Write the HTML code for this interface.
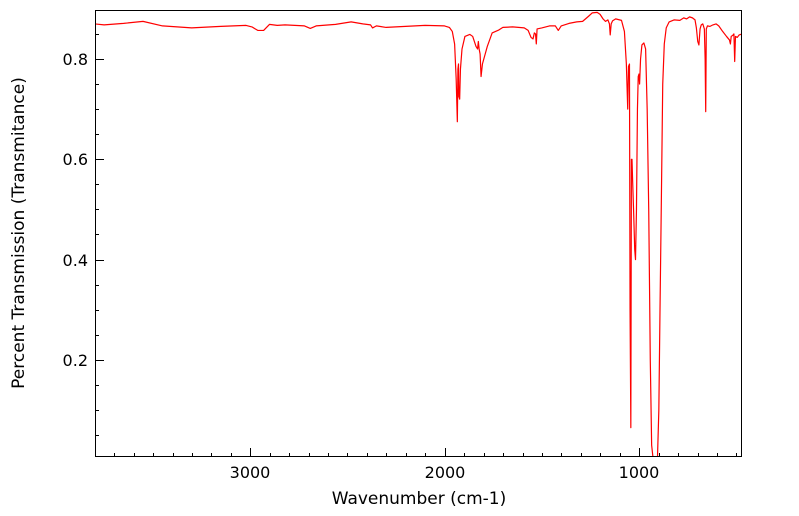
<!DOCTYPE html>
<html><head><meta charset="utf-8"><style>
body{margin:0;background:#fff}
svg{display:block;font-family:"DejaVu Sans","Liberation Sans",sans-serif}
</style></head><body>
<svg width="799" height="516" viewBox="0 0 799 516">
<defs><clipPath id="c"><rect x="95" y="10" width="647" height="447"/></clipPath></defs>
<rect x="95" y="10" width="647" height="447" fill="#fff"/>
<g clip-path="url(#c)">
<polyline transform="matrix(-0.1945 0 0 -501.5 833.5 460.2)" vector-effect="non-scaling-stroke" fill="none" stroke="#ff0000" stroke-width="1.2" stroke-linejoin="round"
points="3800,0.870 3750,0.868 3650,0.871 3550,0.875 3450,0.866 3300,0.862 3150,0.865 3020,0.867 2990,0.864 2960,0.857 2930,0.857 2900,0.869 2860,0.867 2820,0.868 2720,0.866 2690,0.861 2660,0.866 2560,0.869 2480,0.874 2420,0.870 2380,0.868 2370,0.862 2350,0.866 2300,0.863 2200,0.865 2100,0.867 2000,0.866 1975,0.863 1960,0.855 1948,0.830 1940,0.760 1934,0.675 1931,0.780 1928,0.790 1926,0.725 1922,0.720 1918,0.780 1910,0.820 1895,0.845 1870,0.849 1855,0.845 1838,0.825 1830,0.820 1826,0.835 1822,0.820 1817,0.810 1812,0.765 1805,0.790 1780,0.825 1755,0.852 1720,0.858 1700,0.863 1650,0.864 1590,0.862 1570,0.857 1555,0.843 1545,0.840 1538,0.852 1532,0.850 1528,0.830 1524,0.860 1500,0.862 1460,0.866 1430,0.866 1415,0.857 1400,0.866 1360,0.871 1320,0.874 1290,0.875 1260,0.885 1240,0.892 1215,0.893 1200,0.889 1185,0.880 1172,0.875 1160,0.878 1152,0.870 1148,0.848 1143,0.870 1136,0.876 1120,0.880 1090,0.877 1075,0.855 1065,0.790 1058,0.700 1054,0.785 1049,0.790 1046,0.300 1042,0.065 1039,0.600 1036,0.600 1033,0.560 1028,0.500 1022,0.420 1018,0.400 1013,0.500 1008,0.700 1004,0.765 1000,0.770 997,0.750 992,0.800 985,0.828 975,0.832 966,0.820 958,0.700 950,0.500 942,0.200 935,0.030 928,0.005 915,0.003 905,0.005 898,0.100 892,0.300 885,0.520 878,0.750 870,0.830 860,0.862 845,0.874 820,0.878 790,0.877 770,0.882 755,0.880 740,0.884 725,0.882 712,0.878 705,0.862 698,0.835 692,0.828 686,0.860 680,0.868 672,0.870 664,0.860 660,0.800 657,0.695 654,0.860 648,0.866 635,0.865 620,0.868 604,0.870 590,0.866 570,0.855 550,0.845 535,0.838 530,0.830 526,0.845 518,0.847 512,0.850 508,0.795 504,0.845 495,0.843 485,0.848 470,0.850"/>
</g>
<g stroke="#000" stroke-width="1" fill="none">
<rect x="95.5" y="10.5" width="646" height="446"/>
<path d="M250.5,457v-9M445.5,457v-9M639.5,457v-9
M114.5,457v-4M134.5,457v-4M153.5,457v-4M173.5,457v-4M192.5,457v-4M211.5,457v-4M231.5,457v-4M270.5,457v-4M289.5,457v-4M309.5,457v-4M328.5,457v-4M347.5,457v-4M367.5,457v-4M386.5,457v-4M406.5,457v-4M425.5,457v-4M464.5,457v-4M484.5,457v-4M503.5,457v-4M523.5,457v-4M542.5,457v-4M561.5,457v-4M581.5,457v-4M600.5,457v-4M620.5,457v-4M659.5,457v-4M678.5,457v-4M698.5,457v-4M717.5,457v-4M736.5,457v-4
M95,59.5h9M95,159.5h9M95,260.5h9M95,360.5h9
M95,34.5h4M95,84.5h4M95,109.5h4M95,134.5h4M95,184.5h4M95,209.5h4M95,234.5h4M95,285.5h4M95,310.5h4M95,335.5h4M95,385.5h4M95,410.5h4M95,435.5h4"/>
</g>
<g font-size="16" fill="#000">
<text x="250" y="478" text-anchor="middle">3000</text>
<text x="445" y="478" text-anchor="middle">2000</text>
<text x="639" y="478" text-anchor="middle">1000</text>
<text x="88" y="65" text-anchor="end">0.8</text>
<text x="88" y="165" text-anchor="end">0.6</text>
<text x="88" y="266" text-anchor="end">0.4</text>
<text x="88" y="366" text-anchor="end">0.2</text>
<text x="419" y="504" text-anchor="middle" font-size="17">Wavenumber (cm-1)</text>
<text transform="translate(24,233) rotate(-90)" text-anchor="middle" font-size="17">Percent Transmission (Transmitance)</text>
</g>
</svg>
</body></html>
